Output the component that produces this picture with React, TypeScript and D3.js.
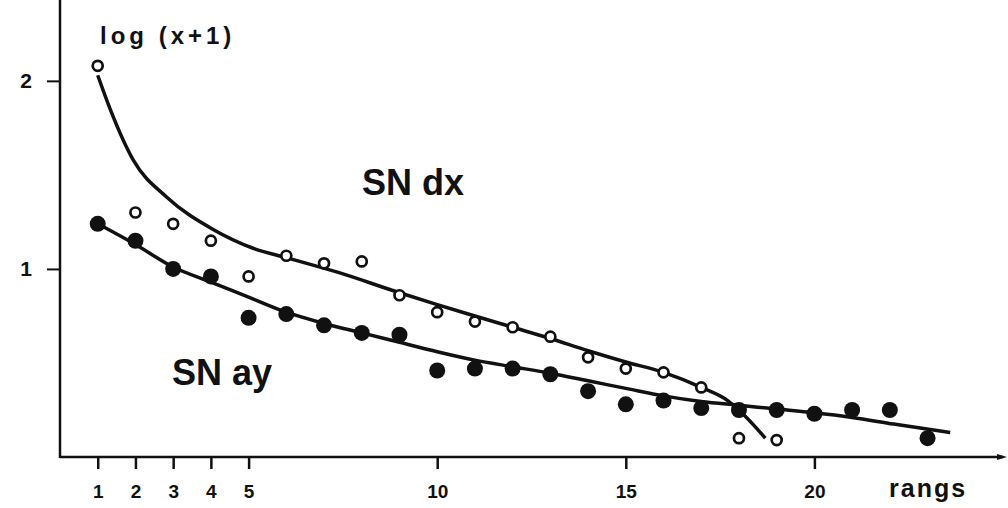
import React, { useEffect, useRef } from 'react';
import * as d3 from 'd3';

// ranks (rangs) and log(x+1) values
const ranksDx = [1, 2, 3, 4, 5, 6, 7, 8, 9, 10, 11, 12, 13, 14, 15, 16, 17, 18, 19];
const valuesDx = [2.08, 1.3, 1.24, 1.15, 0.96, 1.07, 1.03, 1.04, 0.86, 0.77, 0.72, 0.69, 0.64, 0.53, 0.47, 0.45, 0.37, 0.1, 0.09];

const ranksAy = [1, 2, 3, 4, 5, 6, 7, 8, 9, 10, 11, 12, 13, 14, 15, 16, 17, 18, 19, 20, 21, 22, 23];
const valuesAy = [1.24, 1.15, 1.0, 0.96, 0.74, 0.76, 0.7, 0.66, 0.65, 0.46, 0.47, 0.47, 0.44, 0.35, 0.28, 0.3, 0.26, 0.25, 0.25, 0.23, 0.25, 0.25, 0.1];

// hand-drawn fitted curves
const fitDxX = [1, 1.33, 1.94, 2.84, 4.06, 5.12, 6, 7.4, 8.9, 10, 11, 12, 13, 14, 15, 16, 17, 17.7, 18.1, 18.7];
const fitDxY = [2.03, 1.85, 1.58, 1.38, 1.21, 1.11, 1.06, 0.98, 0.88, 0.81, 0.75, 0.69, 0.63, 0.565, 0.505, 0.45, 0.37, 0.3, 0.23, 0.1];
const fitAyX = [1, 2, 3, 4, 5, 6, 7, 8, 9, 10, 11, 12, 13, 14, 15, 16, 17, 18, 19, 20, 21, 22.1, 23.6];
const fitAyY = [1.24, 1.13, 1.01, 0.93, 0.85, 0.77, 0.71, 0.66, 0.61, 0.56, 0.515, 0.48, 0.445, 0.405, 0.365, 0.325, 0.295, 0.275, 0.255, 0.235, 0.21, 0.175, 0.13];

const xTicks = [1, 2, 3, 4, 5, 10, 15, 20];
const yTicks = [1, 2];

const FONT = "'Liberation Sans', Arial, sans-serif";

const App = () => {
  const svgRef = useRef<SVGSVGElement>(null);

  useEffect(() => {
    const svg = d3.select(svgRef.current);
    svg.selectAll('*').remove();

    const width = 1008;
    const height = 508;

    const x = d3.scaleLinear().domain([0, 25]).range([60, 1003]);
    const y = d3.scaleLinear().domain([0, 2.43]).range([457, 0]);

    svg.append('rect').attr('width', width).attr('height', height).attr('fill', '#fff');

    // axes lines
    svg.append('line')
      .attr('x1', x(0)).attr('x2', x(0))
      .attr('y1', 0).attr('y2', y(0) + 1)
      .attr('stroke', '#111').attr('stroke-width', 2.5);
    svg.append('line')
      .attr('x1', x(0)).attr('x2', x(25))
      .attr('y1', y(0)).attr('y2', y(0))
      .attr('stroke', '#111').attr('stroke-width', 2.5);
    svg.append('path')
      .attr('d', `M${x(25) + 4},${y(0)} l-10,-3 l0,6 z`)
      .attr('fill', '#111');

    const xAxis = svg.append('g')
      .attr('transform', `translate(0,${y(0)})`)
      .call(d3.axisBottom(x).tickValues(xTicks).tickSize(12).tickPadding(16).tickFormat(d3.format('d')));
    xAxis.select('.domain').remove();
    xAxis.selectAll('line').attr('stroke', '#111').attr('stroke-width', 2.5);
    xAxis.selectAll('text')
      .attr('fill', '#111')
      .style('font-family', FONT).style('font-weight', 'bold').style('font-size', '19px');

    const yAxis = svg.append('g')
      .attr('transform', `translate(${x(0)},0)`)
      .call(d3.axisLeft(y).tickValues(yTicks).tickSize(13).tickPadding(15).tickFormat(d3.format('d')));
    yAxis.select('.domain').remove();
    yAxis.selectAll('line').attr('stroke', '#111').attr('stroke-width', 2);
    yAxis.selectAll('text')
      .attr('fill', '#111')
      .style('font-family', FONT).style('font-weight', 'bold').style('font-size', '21px');

    const line = d3.line<[number, number]>()
      .x(d => x(d[0]))
      .y(d => y(d[1]))
      .curve(d3.curveMonotoneX);

    svg.append('path')
      .datum(fitDxX.map((v, i) => [v, fitDxY[i]] as [number, number]))
      .attr('d', line)
      .attr('fill', 'none').attr('stroke', '#111').attr('stroke-width', 3.5);
    svg.append('path')
      .datum(fitAyX.map((v, i) => [v, fitAyY[i]] as [number, number]))
      .attr('d', line)
      .attr('fill', 'none').attr('stroke', '#111').attr('stroke-width', 3.5);

    // filled points (SN ay)
    svg.append('g').selectAll('circle')
      .data(ranksAy)
      .join('circle')
      .attr('cx', d => x(d))
      .attr('cy', (d, i) => y(valuesAy[i]))
      .attr('r', 8)
      .attr('fill', '#111');

    // open points (SN dx)
    svg.append('g').selectAll('circle')
      .data(ranksDx)
      .join('circle')
      .attr('cx', d => x(d))
      .attr('cy', (d, i) => y(valuesDx[i]))
      .attr('r', 5)
      .attr('fill', '#fff')
      .attr('stroke', '#111')
      .attr('stroke-width', 2.7);

    const label = (tx: number, ty: number, txt: string, size: number, spacing = 0) =>
      svg.append('text')
        .attr('x', tx).attr('y', ty)
        .attr('fill', '#111')
        .style('font-family', FONT).style('font-weight', 'bold')
        .style('font-size', `${size}px`)
        .style('letter-spacing', `${spacing}px`)
        .text(txt);

    label(100, 44, 'log (x+1)', 24, 4);
    label(362, 195, 'SN dx', 36, 0);
    label(172, 385, 'SN ay', 36, 0);
    label(889, 497, 'rangs', 25, 2);
  }, []);

  return (
    <svg
      ref={svgRef}
      width={1008}
      height={508}
      style={{ position: 'absolute', left: 0, top: 0 }}
    />
  );
};

export default App;
